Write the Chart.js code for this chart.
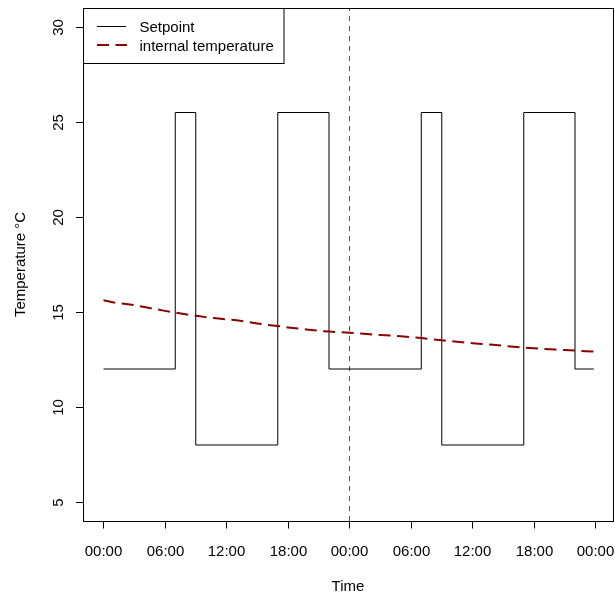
<!DOCTYPE html>
<html><head><meta charset="utf-8">
<script src="https://cdn.jsdelivr.net/npm/chart.js@4"></script>
<style>html,body{margin:0;padding:0;background:#fff}#wrap{width:615px;height:592px}</style>
</head><body><div id="wrap"><canvas id="c" width="615" height="592"></canvas></div>
<script>
// ---- data (hours since first midnight) ----
const tempHours = [0,1,2,3,4,5,6,7,8,9,10,11,12,13,14,15,16,17,18,19,20,21,22,23,24,25,26,27,28,29,30,31,32,33,34,35,36,37,38,39,40,41,42,43,44,45,46,47,47.83];
const internalTemp = [15.62,15.50,15.43,15.36,15.26,15.16,15.06,14.97,14.88,14.80,14.73,14.67,14.61,14.56,14.49,14.40,14.32,14.26,14.19,14.13,14.07,14.01,13.97,13.94,13.91,13.87,13.83,13.79,13.76,13.72,13.68,13.63,13.56,13.51,13.46,13.41,13.36,13.32,13.27,13.22,13.17,13.13,13.09,13.05,13.02,13.00,12.97,12.94,12.92];
const setpointHours = [0,7,9,17,22,31,33,41,46,47.83];
const setpointValues = [12,25.5,8,25.5,12,25.5,8,25.5,12,12];
const midnightHour = 24;
const xTickHours = [0,6,12,18,24,30,36,42,48];
const xTickLabels = ['00:00','06:00','12:00','18:00','00:00','06:00','12:00','18:00','00:00'];
const yTicks = [5,10,15,20,25,30];
const seriesNames = ['Setpoint','internal temperature'];
const xTitle = 'Time';
const yTitle = 'Temperature °C';
const xRange = [-2.0, 49.707];
const yRange = [4, 31];

const FONT = '15px "Liberation Sans", Arial, sans-serif';
const TEMP_COLOR = '#8B0000';
const TEMP_DASH = [12, 6.5];

const rAxesPlugin = {
  id: 'rAxes',
  afterDraw(chart) {
    const ctx = chart.ctx, a = chart.chartArea;
    const xs = chart.scales.x, ys = chart.scales.y;
    ctx.save();
    ctx.strokeStyle = '#000'; ctx.lineWidth = 1; ctx.setLineDash([]);
    // box
    ctx.strokeRect(a.left + 0.5, a.top + 0.5, a.right - a.left, a.bottom - a.top);
    ctx.font = FONT; ctx.fillStyle = '#000';
    // x ticks
    ctx.textAlign = 'center'; ctx.textBaseline = 'alphabetic';
    xTickHours.forEach((h, i) => {
      const px = Math.floor(xs.getPixelForValue(h)) + 0.5;
      ctx.beginPath(); ctx.moveTo(px, a.bottom); ctx.lineTo(px, a.bottom + 7.5); ctx.stroke();
      ctx.fillText(xTickLabels[i], px, 555.5);
    });
    ctx.fillText(xTitle, (a.left + a.right) / 2, 590.5);
    // y ticks
    yTicks.forEach(v => {
      const py = Math.floor(ys.getPixelForValue(v)) + 0.5;
      ctx.beginPath(); ctx.moveTo(a.left - 7, py); ctx.lineTo(a.left, py); ctx.stroke();
      ctx.save(); ctx.translate(62.5, py); ctx.rotate(-Math.PI / 2);
      ctx.fillText(String(v), 0, 0); ctx.restore();
    });
    ctx.save(); ctx.translate(25, (a.top + a.bottom) / 2); ctx.rotate(-Math.PI / 2);
    ctx.fillText(yTitle, 0, 0); ctx.restore();
    // legend
    ctx.fillStyle = '#fff';
    ctx.fillRect(a.left + 1, a.top + 1, 200, 54);
    ctx.strokeStyle = '#000';
    ctx.strokeRect(a.left + 0.5, a.top + 0.5, 200.5, 55);
    ctx.beginPath(); ctx.moveTo(97, 26.5); ctx.lineTo(126, 26.5); ctx.stroke();
    ctx.strokeStyle = TEMP_COLOR; ctx.lineWidth = 2; ctx.setLineDash(TEMP_DASH);
    ctx.beginPath(); ctx.moveTo(97, 45); ctx.lineTo(127, 45); ctx.stroke();
    ctx.setLineDash([]);
    ctx.fillStyle = '#000'; ctx.textAlign = 'left';
    ctx.fillText(seriesNames[0], 139.5, 32);
    ctx.fillText(seriesNames[1], 139.5, 51);
    ctx.restore();
  }
};

new Chart(document.getElementById('c'), {
  type: 'line',
  data: {
    datasets: [
      {
        label: seriesNames[0],
        data: setpointHours.map((h, i) => ({x: h, y: setpointValues[i]})),
        stepped: true,
        borderColor: '#000', borderWidth: 1, pointRadius: 0, fill: false, order: 1
      },
      {
        label: seriesNames[1],
        data: tempHours.map((h, i) => ({x: h, y: internalTemp[i]})),
        borderColor: TEMP_COLOR, borderWidth: 2, borderDash: TEMP_DASH,
        pointRadius: 0, fill: false, tension: 0, order: 0
      },
      {
        label: 'midnight',
        data: [{x: midnightHour, y: yRange[0]}, {x: midnightHour, y: yRange[1]}],
        borderColor: '#555', borderWidth: 1, borderDash: [5, 5],
        pointRadius: 0, fill: false, order: 2
      }
    ]
  },
  options: {
    responsive: false, animation: false, devicePixelRatio: 1,
    layout: { padding: { left: 83, top: 8, right: 2, bottom: 71 } },
    plugins: { legend: { display: false }, tooltip: { enabled: false } },
    scales: {
      x: { type: 'linear', min: xRange[0], max: xRange[1], display: false },
      y: { type: 'linear', min: yRange[0], max: yRange[1], display: false }
    }
  },
  plugins: [rAxesPlugin]
});
</script>
</body></html>
